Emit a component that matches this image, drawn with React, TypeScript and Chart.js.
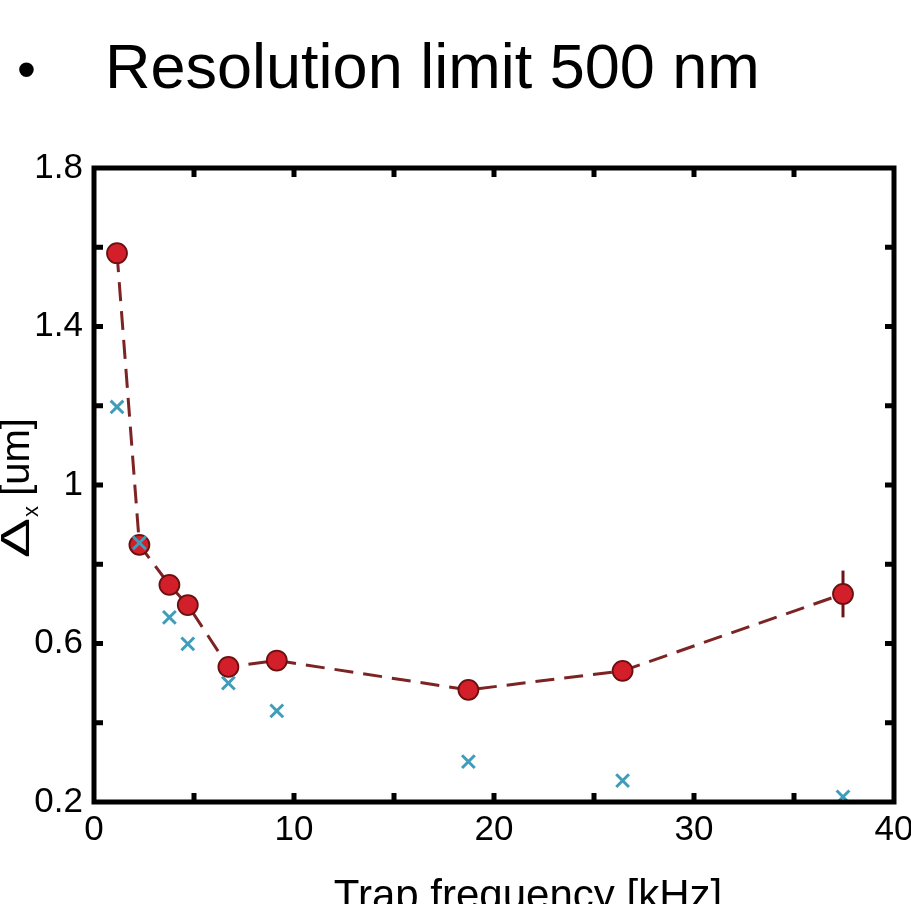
import React, { useEffect, useRef } from "react";
import { Chart, registerables } from "chart.js";

Chart.register(...registerables);

const trapFrequency = [1.15, 2.27, 3.77, 4.69, 6.72, 9.14, 18.72, 26.43, 37.45];
const deltaMeasured = [1.585, 0.849, 0.748, 0.697, 0.541, 0.557, 0.483, 0.531, 0.725];
const deltaError = [0, 0, 0, 0, 0, 0, 0, 0, 0.059];
const deltaLimit = [1.197, 0.854, 0.666, 0.599, 0.5, 0.43, 0.302, 0.254, 0.213];

const xTickLabels = [0, 10, 20, 30, 40];
const yTickLabels = [0.2, 0.6, 1, 1.4, 1.8];

const titleText = "Resolution limit 500 nm";
const xAxisTitle = "Trap frequency [kHz]";

const FONT = "'Liberation Sans', Arial, Helvetica, sans-serif";

const framePlugin = {
  id: "framePlugin",
  beforeDatasetsDraw(chart: any) {
    const { ctx } = chart;
    const xs = chart.scales.x;
    const ys = chart.scales.y;
    ctx.save();
    ctx.strokeStyle = "#6e1414";
    ctx.lineWidth = 3;
    trapFrequency.forEach((f, i) => {
      const e = deltaError[i];
      if (!e) return;
      const px = xs.getPixelForValue(f);
      ctx.beginPath();
      ctx.moveTo(px, ys.getPixelForValue(deltaMeasured[i] - e));
      ctx.lineTo(px, ys.getPixelForValue(deltaMeasured[i] + e));
      ctx.stroke();
    });
    ctx.restore();
  },
  afterDraw(chart: any) {
    const { ctx, chartArea } = chart;
    const { left, right, top, bottom } = chartArea;
    const xs = chart.scales.x;
    const ys = chart.scales.y;
    ctx.save();
    ctx.strokeStyle = "#000";
    ctx.lineWidth = 5;
    ctx.lineCap = "butt";
    const tl = 9;
    xs.ticks.forEach((t: any) => {
      const px = xs.getPixelForValue(t.value);
      if (px <= left + 3 || px >= right - 3) return;
      ctx.beginPath();
      ctx.moveTo(px, bottom);
      ctx.lineTo(px, bottom - tl);
      ctx.moveTo(px, top);
      ctx.lineTo(px, top + tl);
      ctx.stroke();
    });
    ys.ticks.forEach((t: any) => {
      const py = ys.getPixelForValue(t.value);
      if (py <= top + 3 || py >= bottom - 3) return;
      ctx.beginPath();
      ctx.moveTo(left, py);
      ctx.lineTo(left + tl, py);
      ctx.moveTo(right, py);
      ctx.lineTo(right - tl, py);
      ctx.stroke();
    });
    ctx.lineWidth = 5;
    ctx.strokeRect(left, top, right - left, bottom - top);

    // y axis title: Δx [um]
    ctx.fillStyle = "#000";
    ctx.translate(29, 558);
    ctx.rotate(-Math.PI / 2);
    ctx.textBaseline = "alphabetic";
    ctx.textAlign = "left";
    ctx.font = `40px ${FONT}`;
    ctx.save();
    ctx.scale(1.5, 1);
    ctx.fillText("Δ", 0, 0);
    ctx.restore();
    const dw = ctx.measureText("Δ").width * 1.5;
    ctx.font = `22px ${FONT}`;
    ctx.fillText("x", dw + 1, 9);
    const sw = ctx.measureText("x").width;
    ctx.font = `40px ${FONT}`;
    ctx.fillText(" [um]", dw + sw, 0);
    ctx.setTransform(1, 0, 0, 1, 0, 0);

    // x axis title
    ctx.font = `42px ${FONT}`;
    ctx.textAlign = "center";
    ctx.textBaseline = "alphabetic";
    ctx.fillText(xAxisTitle, 528, 909);
    ctx.restore();
  },
};

export default function App() {
  const canvasRef = useRef<HTMLCanvasElement | null>(null);

  useEffect(() => {
    if (!canvasRef.current) return;
    const measured = trapFrequency.map((x, i) => ({ x, y: deltaMeasured[i] }));
    const limit = trapFrequency.map((x, i) => ({ x, y: deltaLimit[i] }));
    const near = (v: number, list: number[]) => list.some((l) => Math.abs(l - v) < 1e-6);
    const chart = new Chart(canvasRef.current, {
      type: "scatter",
      data: {
        datasets: [
          {
            label: "limit",
            data: limit,
            showLine: false,
            pointStyle: "crossRot",
            pointRadius: 9,
            pointBorderWidth: 3,
            borderColor: "#3d9dbb",
            backgroundColor: "#3d9dbb",
            clip: false,
          },
          {
            label: "measured",
            data: measured,
            showLine: true,
            borderColor: "#7c2424",
            borderWidth: 3,
            borderDash: [19, 10],
            pointStyle: "circle",
            pointRadius: 10,
            pointBorderWidth: 1.8,
            pointBorderColor: "#6a1010",
            pointBackgroundColor: "#d21f29",
            tension: 0,
            clip: false,
          },
        ],
      },
      options: {
        animation: false,
        responsive: false,
        events: [],
        layout: { padding: { top: 168, right: 17, left: 0, bottom: 0 } },
        plugins: { legend: { display: false }, tooltip: { enabled: false } },
        scales: {
          x: {
            type: "linear",
            min: 0,
            max: 40,
            afterFit(scale: any) {
              scale.height = 102;
              scale.paddingLeft = 0;
              scale.paddingRight = 0;
            },
            border: { display: false },
            grid: { display: true, drawOnChartArea: false, drawTicks: false },
            ticks: {
              stepSize: 5,
              padding: 7,
              color: "#000",
              font: { family: FONT, size: 35 },
              maxRotation: 0,
              autoSkip: false,
              callback: (v: any) => (near(Number(v), xTickLabels) ? String(Math.round(Number(v))) : ""),
            },
          },
          y: {
            type: "linear",
            min: 0.2,
            max: 1.8,
            afterFit(scale: any) {
              scale.width = 94;
              scale.paddingTop = 0;
              scale.paddingBottom = 0;
            },
            border: { display: false },
            grid: { display: true, drawOnChartArea: false, drawTicks: false },
            ticks: {
              stepSize: 0.2,
              padding: 11,
              color: "#000",
              font: { family: FONT, size: 35 },
              autoSkip: false,
              callback: (v: any) => (near(Number(v), yTickLabels) ? String(+Number(v).toFixed(1)) : ""),
            },
          },
        },
      },
      plugins: [framePlugin],
    });
    return () => chart.destroy();
  }, []);

  return (
    <div style={{ position: "absolute", left: 0, top: 0, width: 911, height: 904, background: "#fff", overflow: "hidden" }}>
      <div
        style={{
          position: "absolute",
          left: 17,
          top: 30,
          fontFamily: FONT,
          fontSize: 63,
          lineHeight: "72px",
          color: "#000",
          whiteSpace: "nowrap",
        }}
      >
        <span style={{ display: "inline-block", width: 88, fontSize: 54 }}>•</span>
        {titleText}
      </div>
      <canvas ref={canvasRef} width={911} height={904} style={{ position: "absolute", left: 0, top: 0 }} />
    </div>
  );
}
